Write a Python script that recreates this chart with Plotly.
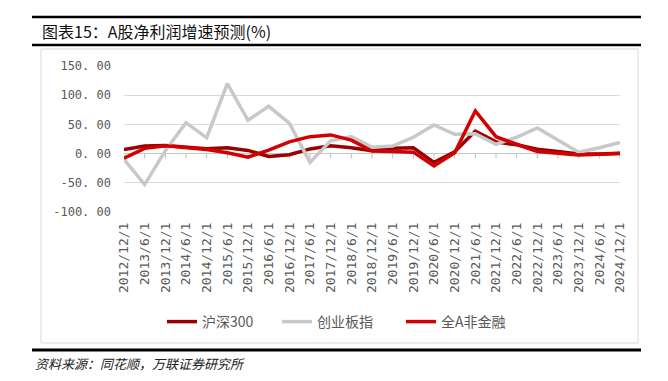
import plotly.graph_objects as go

categories = [
    "2012/12/1", "2013/6/1", "2013/12/1", "2014/6/1", "2014/12/1", "2015/6/1",
    "2015/12/1", "2016/6/1", "2016/12/1", "2017/6/1", "2017/12/1", "2018/6/1",
    "2018/12/1", "2019/6/1", "2019/12/1", "2020/6/1", "2020/12/1", "2021/6/1",
    "2021/12/1", "2022/6/1", "2022/12/1", "2023/6/1", "2023/12/1", "2024/6/1",
    "2024/12/1",
]
hs300 = [7, 13, 14, 11, 8.5, 10, 5.5, -5, -2, 8, 13.5, 10, 5,
         9, 10, -15, 3, 38.5, 20, 15, 7.5, 3.5, -0.5, -0.5, 0.5]
cyb = [-10, -53, 5, 53, 27, 120, 57, 81, 52, -15, 22, 29, 11,
       13, 28, 49, 33, 34, 16, 28, 44, 23, 2.5, 10, 19]
qa_nonfin = [-8, 9, 13.5, 10, 7, 1.5, -6, 6, 20, 29, 32, 23, 4.5,
             3.5, 2.5, -21, 1.5, 73, 29, 16, 3.5, 0.5, -2.5, -1, 0]
series_names = ["沪深300", "创业板指", "全A非金融"]
y_ticks = [-100, -50, 0, 50, 100, 150]
y_ticktext = ["-100. 00", "-50. 00", "0. 00", "50. 00", "100. 00", "150. 00"]

title_text = "图表15：A股净利润增速预测(%)"
source_text = "资料来源：同花顺，万联证券研究所"

OFF = 8  # page body margin offset
W, H = 668 - OFF, 381 - OFF
L, R, T, B = 124, 620, 66, 212  # target plot area in window pixels


def px(x):
    return (x - L) / (R - L)


def py(y):
    return (B - y) / (B - T)


colors = ["#990000", "#C8C8C8", "#D20000"]
legend_ids = ["legend", "legend2", "legend3"]
legend_x = [162, 277, 401]
fig = go.Figure()
for name, vals, col, lg in zip(series_names, [hs300, cyb, qa_nonfin], colors, legend_ids):
    fig.add_trace(go.Scatter(
        x=categories, y=vals, name=name, mode="lines",
        line=dict(color=col, width=3.5), cliponaxis=False, legend=lg,
    ))

shapes = []
for c in categories:
    shapes.append(dict(type="line", xref="x", yref="y", ysizemode="pixel",
                       yanchor=0, x0=c, x1=c, y0=0, y1=-5,
                       line=dict(color="#BFBFBF", width=1), layer="below"))
shapes.append(dict(type="rect", xref="paper", yref="paper",
                   x0=px(41), x1=px(638), y0=py(343), y1=py(49),
                   line=dict(color="#D9D9D9", width=1), layer="below"))
for yy, w in [(17, 2.5), (45, 2.5), (350, 3)]:
    shapes.append(dict(type="line", xref="paper", yref="paper",
                       x0=px(32), x1=px(641), y0=py(yy), y1=py(yy),
                       line=dict(color="#000000", width=w)))

annotations = [
    dict(text=title_text, xref="paper", yref="paper", x=px(40), y=py(31),
         xanchor="left", yanchor="middle", showarrow=False,
         font=dict(family="Noto Sans CJK SC", size=16, color="#111111")),
    dict(text="<i>" + source_text + "</i>", xref="paper", yref="paper",
         x=px(33), y=py(363), xanchor="left", yanchor="middle", showarrow=False,
         font=dict(family="Noto Sans CJK SC", size=13, color="#222222")),
]

legend_common = dict(orientation="h", yanchor="middle", xanchor="left",
                     bgcolor="rgba(0,0,0,0)", itemwidth=30,
                     font=dict(family="Noto Sans CJK SC", size=14, color="#595959"))
legends = {}
for lg, lx in zip(legend_ids, legend_x):
    legends[lg] = dict(legend_common, x=px(lx), y=py(322))

fig.update_layout(
    width=W, height=H, autosize=False,
    margin=dict(l=L - OFF, r=W - (R - OFF), t=T - OFF, b=H - (B - OFF), pad=0),
    paper_bgcolor="white", plot_bgcolor="white",
    shapes=shapes, annotations=annotations,
    showlegend=True,
    xaxis=dict(type="category", categoryorder="array", categoryarray=categories,
               range=[0, len(categories) - 1], showgrid=False, zeroline=False,
               showline=False, ticks="", tickangle=-90, ticklabelstandoff=7,
               tickfont=dict(family="DejaVu Sans Mono", size=13, color="#595959")),
    yaxis=dict(range=[-100, 150], tickvals=y_ticks, ticktext=y_ticktext,
               showgrid=True, gridcolor="#D9D9D9", gridwidth=1,
               zeroline=True, zerolinecolor="#C8C8C8", zerolinewidth=1,
               showline=False, ticks="", ticklabelstandoff=12,
               tickfont=dict(family="DejaVu Sans Mono", size=12, color="#595959")),
    **legends,
)

fig.write_html("out.html")
